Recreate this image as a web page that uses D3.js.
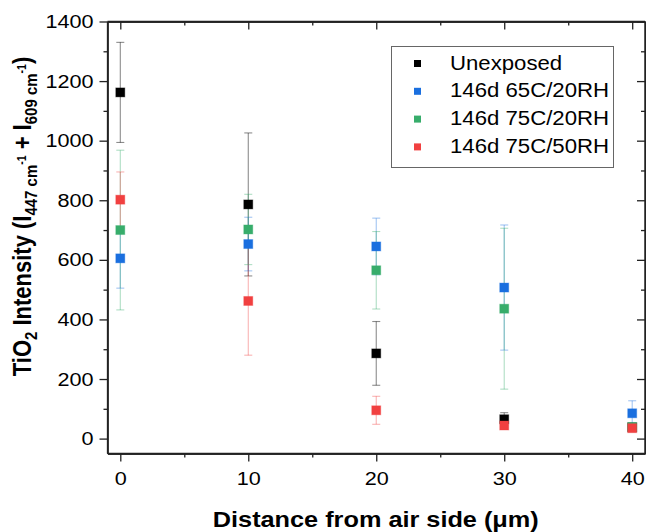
<!DOCTYPE html>
<html>
<head>
<meta charset="utf-8">
<script src="https://cdn.jsdelivr.net/npm/d3@7"></script>
<style>
  html, body { margin: 0; padding: 0; background: #fff; }
  svg { display: block; font-family: "Liberation Sans", Arial, sans-serif; }
</style>
</head>
<body>
<svg id="chart" width="646" height="532"></svg>
<script>
// ---------- data ----------
const distances = [0, 10, 20, 30, 40];
const seriesNames = ["Unexposed", "146d 65C/20RH", "146d 75C/20RH", "146d 75C/50RH"];
const seriesColors = ["#000000", "#1A6FDF", "#37AD6B", "#F14040"];
const unexposed     = [1162, 786, 286, 65, 38];
const unexposedErr  = [168, 240, 107, 22, 6];
const d65c20rh      = [605, 653, 645, 507, 85];
const d65c20rhErr   = [100, 90, 95, 210, 42];
const d75c20rh      = [700, 702, 565, 436, 39];
const d75c20rhErr   = [268, 118, 130, 270, 6];
const d75c50rh      = [802, 462, 95, 44, 35];
const d75c50rhErr   = [93, 182, 47, 8, 5];
const xTicks = [0, 10, 20, 30, 40];
const yTicks = [0, 200, 400, 600, 800, 1000, 1200, 1400];

const values = [unexposed, d65c20rh, d75c20rh, d75c50rh];
const errors = [unexposedErr, d65c20rhErr, d75c20rhErr, d75c50rhErr];

// ---------- layout ----------
const svg = d3.select("#chart");
const L = 107.5, R = 645, T = 21.5, B = 453.5;
const x = d3.scaleLinear().domain([-1, 41]).range([L, R]);
const y = d3.scaleLinear().domain([-50, 1400]).range([B, T]);
const axisColor = "#222";
const SX = 1.15;          // horizontal text stretch seen in the reference
const tickFont = 18.8;

const xMinor = d3.range(5, 40, 10);
const yMinor = d3.range(100, 1400, 200);

function styleAxis(g) {
  g.selectAll("path.domain").attr("stroke", axisColor).attr("stroke-width", 1.3);
  g.selectAll(".tick line").attr("stroke", axisColor).attr("stroke-width", 1.3);
  g.selectAll("text").attr("fill", "#000").attr("font-size", tickFont)
    .attr("font-family", '"Liberation Sans", Arial, sans-serif');
}

// bottom
svg.append("g").attr("transform", `translate(0,${B})`)
  .call(d3.axisBottom(x).tickValues(xTicks).tickSize(8).tickPadding(10).tickSizeOuter(0))
  .call(styleAxis)
  .call(g => g.selectAll(".tick text").attr("transform", `scale(${SX},1)`));
svg.append("g").attr("transform", `translate(0,${B})`)
  .call(d3.axisBottom(x).tickValues(xMinor).tickSize(4).tickFormat("").tickSizeOuter(0))
  .call(styleAxis);
// top (inward)
svg.append("g").attr("transform", `translate(0,${T})`)
  .call(d3.axisBottom(x).tickValues(xTicks).tickSize(8).tickFormat("").tickSizeOuter(0))
  .call(styleAxis);
svg.append("g").attr("transform", `translate(0,${T})`)
  .call(d3.axisBottom(x).tickValues(xMinor).tickSize(4).tickFormat("").tickSizeOuter(0))
  .call(styleAxis);
// left
svg.append("g").attr("transform", `translate(${L},0)`)
  .call(d3.axisLeft(y).tickValues(yTicks).tickSize(8).tickPadding(6).tickSizeOuter(0)
    .tickFormat(d3.format("d")))
  .call(styleAxis)
  .call(g => g.selectAll(".tick text")
    .attr("x", -14 / SX).attr("transform", `scale(${SX},1)`));
svg.append("g").attr("transform", `translate(${L},0)`)
  .call(d3.axisLeft(y).tickValues(yMinor).tickSize(4).tickFormat("").tickSizeOuter(0))
  .call(styleAxis);
// right (inward)
svg.append("g").attr("transform", `translate(${R},0)`)
  .call(d3.axisLeft(y).tickValues(yTicks).tickSize(8).tickFormat("").tickSizeOuter(0))
  .call(styleAxis);
svg.append("g").attr("transform", `translate(${R},0)`)
  .call(d3.axisLeft(y).tickValues(yMinor).tickSize(4).tickFormat("").tickSizeOuter(0))
  .call(styleAxis);

// frame
[[L, T, R, T], [L, B, R, B], [L, T, L, B], [R, T, R, B]].forEach(([x1, y1, x2, y2]) => {
  svg.append("line").attr("x1", x1).attr("y1", y1).attr("x2", x2).attr("y2", y2)
    .attr("stroke", axisColor).attr("stroke-width", 1.3);
});

// ---------- error bars + markers ----------
const capW = 8, markerSize = 9;
values.forEach((vals, si) => {
  const g = svg.append("g");
  const color = seriesColors[si];
  const pts = distances.map((d, i) => ({ d, v: vals[i], e: errors[si][i] }));
  const eb = g.selectAll("g.eb").data(pts).join("g")
    .attr("stroke", color).attr("stroke-opacity", si === 0 ? 0.45 : 0.4).attr("stroke-width", 1.1);
  eb.append("line")
    .attr("x1", p => x(p.d)).attr("x2", p => x(p.d))
    .attr("y1", p => y(p.v + p.e)).attr("y2", p => y(p.v - p.e));
  eb.append("line")
    .attr("x1", p => x(p.d) - capW / 2).attr("x2", p => x(p.d) + capW / 2)
    .attr("y1", p => y(p.v + p.e)).attr("y2", p => y(p.v + p.e));
  eb.append("line")
    .attr("x1", p => x(p.d) - capW / 2).attr("x2", p => x(p.d) + capW / 2)
    .attr("y1", p => y(p.v - p.e)).attr("y2", p => y(p.v - p.e));
});
values.forEach((vals, si) => {
  const color = seriesColors[si];
  svg.append("g").selectAll("rect").data(distances.map((d, i) => ({ d, v: vals[i] }))).join("rect")
    .attr("x", p => x(p.d) - markerSize / 2)
    .attr("y", p => y(p.v) - markerSize / 2)
    .attr("width", markerSize).attr("height", markerSize)
    .attr("fill", color)
    .attr("stroke", color).attr("stroke-opacity", 0.35).attr("stroke-width", 1);
});

// ---------- legend ----------
const lg = svg.append("g");
lg.append("rect").attr("x", 391.5).attr("y", 46.5).attr("width", 222).attr("height", 121)
  .attr("fill", "#fff").attr("stroke", "#666").attr("stroke-width", 1);
seriesNames.forEach((name, i) => {
  const cy = 63.5 + i * 27.8;
  lg.append("rect").attr("x", 414).attr("y", cy - 3.5).attr("width", 7).attr("height", 7)
    .attr("fill", seriesColors[i]);
  lg.append("text").attr("transform", `translate(450,${cy + 6})scale(${SX},1)`)
    .attr("font-size", 19.3).attr("fill", "#000").text(name);
});

// ---------- axis titles ----------
svg.append("text").attr("transform", `translate(${(L + R) / 2 - 0.5},526.5)scale(${SX},1)`)
  .attr("text-anchor", "middle")
  .attr("font-size", 22).attr("font-weight", "bold").attr("fill", "#000")
  .text("Distance from air side (\u03BCm)");

const yt = svg.append("text")
  .attr("transform", `translate(31,${(T + B) / 2 - 21})scale(${SX},1)rotate(-90)`)
  .attr("text-anchor", "middle").attr("font-size", 22).attr("font-weight", "bold").attr("fill", "#000");
yt.append("tspan").text("TiO");
yt.append("tspan").attr("font-size", 15).attr("dy", 5).text("2");
yt.append("tspan").attr("dy", -5).text(" Intensity (I");
yt.append("tspan").attr("font-size", 15).attr("dy", 5).text("447 cm");
yt.append("tspan").attr("font-size", 10.5).attr("dy", -9.5).text("-1");
yt.append("tspan").attr("dy", 4.5).text(" + I");
yt.append("tspan").attr("font-size", 15).attr("dy", 5).text("609 cm");
yt.append("tspan").attr("font-size", 10.5).attr("dy", -9.5).text("-1");
yt.append("tspan").attr("dy", 4.5).text(")");
</script>
</body>
</html>
